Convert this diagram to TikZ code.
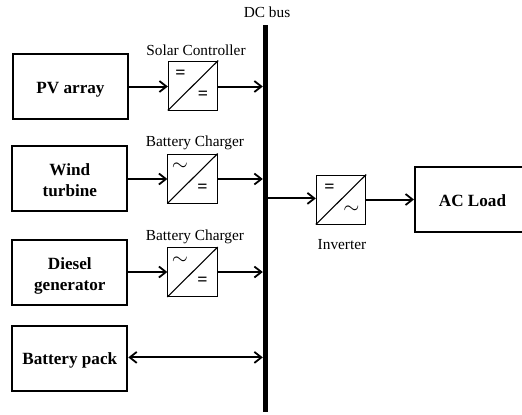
\documentclass[tikz,border=0pt]{standalone}
\usepackage{fontspec}
\setmainfont{Liberation Serif}
\usetikzlibrary{arrows.meta,calc}
\newcommand{\lowerby}[2]{\raisebox{-#1bp}[\height][\depth]{#2}}
\tikzset{
 x=1bp,y=-1bp,
 srcbox/.style={draw,line width=2bp,inner sep=0pt,minimum width=115bp,minimum height=65bp,align=center,font=\fontsize{17.2}{21}\selectfont\bfseries},
 conv/.style={draw,line width=0.8bp,fill=white,inner sep=0pt,minimum width=49.5bp,minimum height=49bp},
 lbl/.style={inner sep=0pt,font=\fontsize{15.4}{17}\selectfont},
 sym/.style={inner sep=0pt,font=\fontsize{18}{18}\selectfont\bfseries},
 tilde/.style={inner sep=0pt,font=\fontsize{22}{22}\selectfont},
 link/.style={line width=2bp,-{Straight Barb[length=7bp,width=11bp,line width=1.8bp]}},
 dlink/.style={line width=2bp,{Straight Barb[length=7bp,width=11bp,line width=1.8bp]}-{Straight Barb[length=7bp,width=11bp,line width=1.8bp]}},
 diag/.style={line width=1.1bp}
}
\begin{document}
\begin{tikzpicture}
\useasboundingbox (0,0) rectangle (522,414);
\node[inner sep=0pt,draw=none,fill=black,minimum width=5bp,minimum height=387bp] (bus) at (265.5,218.5) {};
\node[lbl] (buslbl) at (267,12) {DC bus};
\node[srcbox] (pv) at (70.5,86.5) {\lowerby{3}{PV array}};
\node[srcbox] (wind) at (69.8,178.5) {\lowerby{2}{Wind}\\\lowerby{2}{turbine}};
\node[srcbox] (diesel) at (69.8,272) {\lowerby{4}{Diesel}\\\lowerby{4}{generator}};
\node[srcbox] (batt) at (69.8,358.5) {\lowerby{2}{Battery pack}};
\node[srcbox] (load) at (472.5,199.5) {\lowerby{1}{AC Load}};
\node[conv] (c1) at (193,85.5) {};
\node[conv] (c2) at (192.5,178.5) {};
\node[conv] (c3) at (192.5,272) {};
\node[conv] (c4) at (341,199.5) {};
\foreach \n in {c1,c2,c3,c4} \draw[diag] (\n.south west) -- (\n.north east);
\node[lbl] (l1) at (196,50) {Solar Controller};
\node[lbl] (l2) at (195,143) {Battery Charger};
\node[lbl] (l3) at (195,237) {Battery Charger};
\node[lbl] (l4) at (342,245) {Inverter};
\node[sym] (s1a) at (180.5,74.5) {=};
\node[sym] (s1b) at (203,95.5) {=};
\node[tilde] (s2a) at (180,167) {$\sim$};
\node[sym] (s2b) at (202.5,188.5) {=};
\node[tilde] (s3a) at (180,261) {$\sim$};
\node[sym] (s3b) at (202.5,281.5) {=};
\node[sym] (s4a) at (329.5,188) {=};
\node[tilde] (s4b) at (351.5,210) {$\sim$};
\draw[link] (pv.east |- 0,86.5) -- (c1.west |- 0,86.5);
\draw[link] (c1.east |- 0,86.5) -- (bus.west |- 0,86.5);
\draw[link] (wind.east |- 0,179) -- (c2.west |- 0,179);
\draw[link] (c2.east |- 0,179) -- (bus.west |- 0,179);
\draw[link] (diesel.east |- 0,272) -- (c3.west |- 0,272);
\draw[link] (c3.east |- 0,272) -- (bus.west |- 0,272);
\draw[dlink] (batt.east |- 0,357.4) -- (bus.west |- 0,357.4);
\draw[link] (bus.east |- 0,198.4) -- (c4.west |- 0,198.4);
\draw[link] (c4.east |- 0,199.5) -- (load.west |- 0,199.5);
\end{tikzpicture}
\end{document}
